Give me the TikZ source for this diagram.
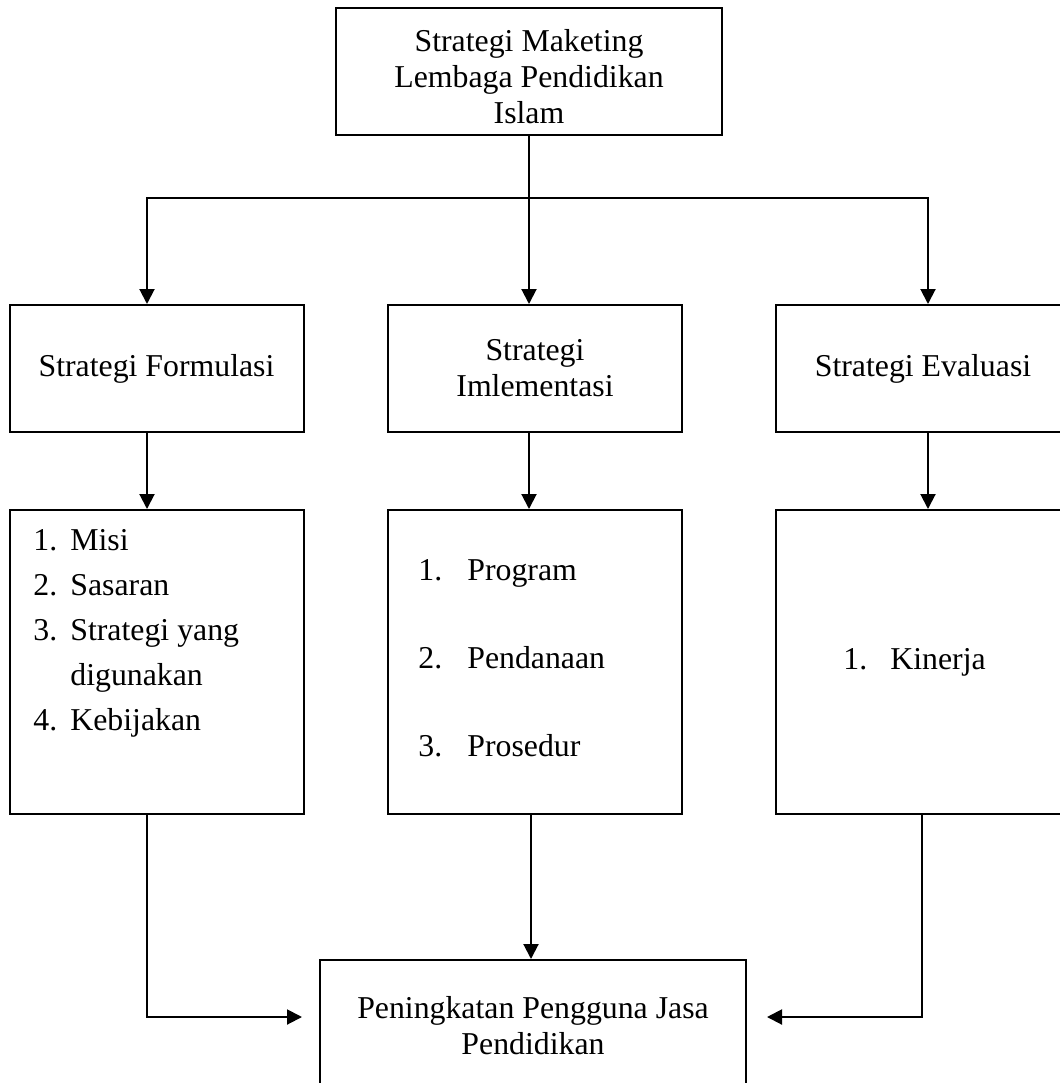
\documentclass[tikz,border=0pt]{standalone}
\usepackage{fontspec}
\setmainfont{Liberation Serif}
\usetikzlibrary{positioning,arrows.meta}
\newcommand{\judul}{\fontsize{15.9}{18}\selectfont}
\newcommand{\nomor}[2]{\makebox[#1][l]{#2}}
\tikzset{
  kotak/.style     = {draw, line width=1pt, inner sep=0pt, align=center, font=\judul},
  kotakatas/.style = {kotak, minimum width=147pt, minimum height=63.5pt},
  kotakisi/.style  = {kotak, minimum width=147pt, minimum height=152pt},
  daftar/.style    = {anchor=west, inner sep=0pt, align=left},
  panah/.style     = {-{Triangle[length=7.5pt, width=7.5pt]}, line width=1pt},
  garis/.style     = {line width=1pt}
}

\begin{document}
\begin{tikzpicture}[x=0.5pt, y=-0.5pt, node distance=38pt]
        \useasboundingbox (0,0) rectangle (1060,1083);
        \node[kotak, minimum width=193pt, minimum height=63.5pt] (puncak) at (529,71.5) {\rule{0pt}{16pt}Strategi Maketing\\ Lembaga Pendidikan\\ Islam};
        \node[kotakatas] (formulasi) at (156.5,368.5) {Strategi Formulasi};
        \node[kotakatas] (implementasi) at (535,368.5) {Strategi\\ Imlementasi};
        \node[kotakatas] (evaluasi) at (923,368.5) {Strategi Evaluasi};
        \node[kotakisi, below=of formulasi] (isiF) {};
        \node[kotakisi, below=of implementasi] (isiI) {};
        \node[kotakisi, below=of evaluasi] (isiE) {};
        \node[kotak, minimum width=213pt, minimum height=66pt] (hasil) at (533,1026) {Peningkatan Pengguna Jasa\\ Pendidikan};

        % isi daftar
        \node[daftar, font=\fontsize{15.9}{22.5}\selectfont] (daftarF) at (33,633) {\nomor{18.5pt}{1.}Misi\\ \nomor{18.5pt}{2.}Sasaran\\ \nomor{18.5pt}{3.}Strategi yang\\ \nomor{18.5pt}{}digunakan\\ \nomor{18.5pt}{4.}Kebijakan};
        \node[daftar, font=\fontsize{15.9}{44}\selectfont] (daftarI) at (418,658) {\nomor{24.5pt}{1.}Program\\ \nomor{24.5pt}{2.}Pendanaan\\ \nomor{24.5pt}{3.}Prosedur};
        \node[daftar, font=\judul] (daftarE) at (843,662) {\nomor{23.5pt}{1.}Kinerja};

        \coordinate (cabang) at (529,198);
        \draw[garis] (puncak.south) -- (cabang);
        \draw[panah] (cabang) -- (cabang |- implementasi.north);
        \draw[panah] (cabang) -| ([xshift=-4.75pt]formulasi.north);
        \draw[panah] (cabang) -| ([xshift=2.5pt]evaluasi.north);

        \draw[panah] ([xshift=-4.75pt]formulasi.south) -- ([xshift=-4.75pt]isiF.north);
        \draw[panah] (cabang |- implementasi.south) -- (cabang |- isiI.north);
        \draw[panah] ([xshift=2.5pt]evaluasi.south) -- ([xshift=2.5pt]isiE.north);

        \draw[panah] ([xshift=-4.75pt]isiF.south) |- ([xshift=-8.5pt, yshift=4.5pt]hasil.west);
        \draw[panah] ([xshift=-2pt]isiI.south) -- ([xshift=-1pt]hasil.north);
        \draw[panah] ([xshift=-0.5pt]isiE.south) |- ([xshift=10pt, yshift=4.5pt]hasil.east);
\end{tikzpicture}
\end{document}
